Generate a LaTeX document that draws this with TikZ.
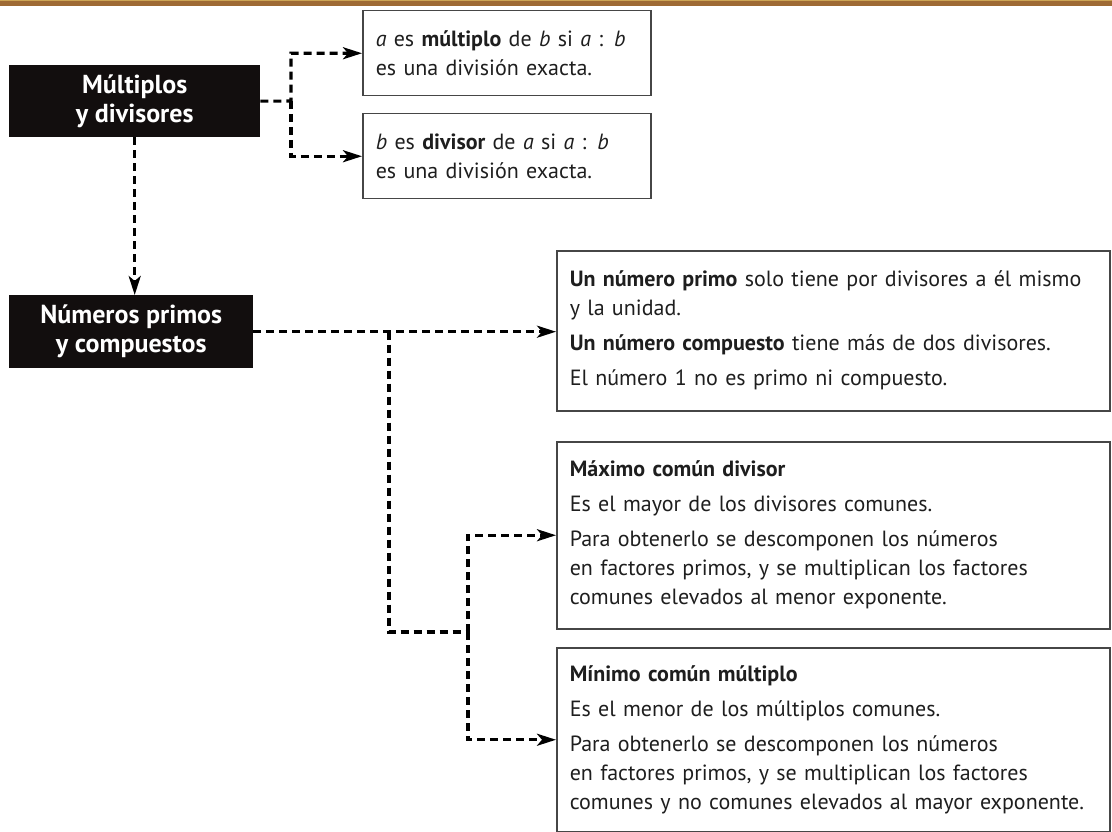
\documentclass[tikz,border=0pt]{standalone}
\usepackage{fontspec}
\setmainfont{PT Sans}
\usetikzlibrary{arrows.meta}
\definecolor{barbrown}{RGB}{158,106,52}
\definecolor{bargold}{RGB}{205,165,85}
\definecolor{boxline}{RGB}{70,70,70}
\definecolor{bodytext}{RGB}{30,30,30}
\definecolor{headfill}{RGB}{18,14,14}
\begin{document}
\begin{tikzpicture}[x=1pt,y=-1pt,>={Stealth[length=19pt,width=12pt,inset=5pt]}]
\tikzstyle{heading} = [fill=headfill, text=white, font=\fontsize{26}{29}\selectfont\bfseries, align=center, inner sep=0pt, anchor=north west];
\tikzstyle{infobox} = [draw=boxline, line width=1.5pt, text=bodytext, font=\fontsize{22}{29}\selectfont, align=left, inner ysep=0pt, anchor=north west];
\tikzstyle{link} = [dash pattern=on 8pt off 5pt, line width=3.1pt];
\useasboundingbox (0,0) rectangle (1112,832);
\fill[barbrown] (0,0) rectangle (1112,6);
\fill[bargold] (0,0) rectangle (1112,1.5);
% left column
\node[heading, minimum width=251pt, minimum height=72pt] (multdiv) at (9,65) {Múltiplos\\y divisores};
\node[heading, minimum width=244pt, minimum height=73pt] (primos) at (9,295) {Números primos\\y compuestos};
% definitions
\node[infobox, text width=262pt, inner xsep=13pt, minimum height=85pt] (defmult) at (362,10)
  {\textit{a} es \textbf{múltiplo} de \textit{b} si \textit{a} : \textit{b}\\es una división exacta.};
\node[infobox, text width=262pt, inner xsep=13pt, minimum height=85pt] (defdiv) at (362,113)
  {\textit{b} es \textbf{divisor} de \textit{a} si \textit{a} : \textit{b}\\es una división exacta.};
\node[infobox, text width=527pt, inner xsep=13pt, minimum height=160pt] (primo) at (556,250)
  {\textbf{Un número primo} solo tiene por divisores a él mismo\\
   y la unidad.\\[6pt]
   \textbf{Un número compuesto} tiene más de dos divisores.\\[6pt]
   El número 1 no es primo ni compuesto.};
\node[infobox, text width=527pt, inner xsep=13pt, minimum height=187pt] (mcd) at (556,441)
  {\textbf{Máximo común divisor}\\[6pt]
   Es el mayor de los divisores comunes.\\[6pt]
   Para obtenerlo se descomponen los números\\
   en factores primos, y se multiplican los factores\\
   comunes elevados al menor exponente.};
\node[infobox, text width=527pt, inner xsep=13pt, minimum height=184pt] (mcm) at (556,647)
  {\textbf{Mínimo común múltiplo}\\[6pt]
   Es el menor de los múltiplos comunes.\\[6pt]
   Para obtenerlo se descomponen los números\\
   en factores primos, y se multiplican los factores\\
   comunes y no comunes elevados al mayor exponente.};
% connectors
\coordinate (j1) at (291,101);
\coordinate (j2) at (389,331.5);
\coordinate (j3) at (389,632);
\coordinate (j4) at (468,632);
\draw[link,->] (multdiv.east) -- (j1) |- (defmult.west);
\draw[link,->] (j1) |- (defdiv.west);
\draw[link,->] (multdiv.south) -- (multdiv.south |- primos.north);
\draw[link,->] (primos.east) -- (primos.east -| primo.west);
\draw[link] (j2) -- (j3) -- (j4);
\draw[link,->] (j4) |- (mcd.west);
\draw[link,->] (j4) |- (mcm.west);
\end{tikzpicture}
\end{document}
